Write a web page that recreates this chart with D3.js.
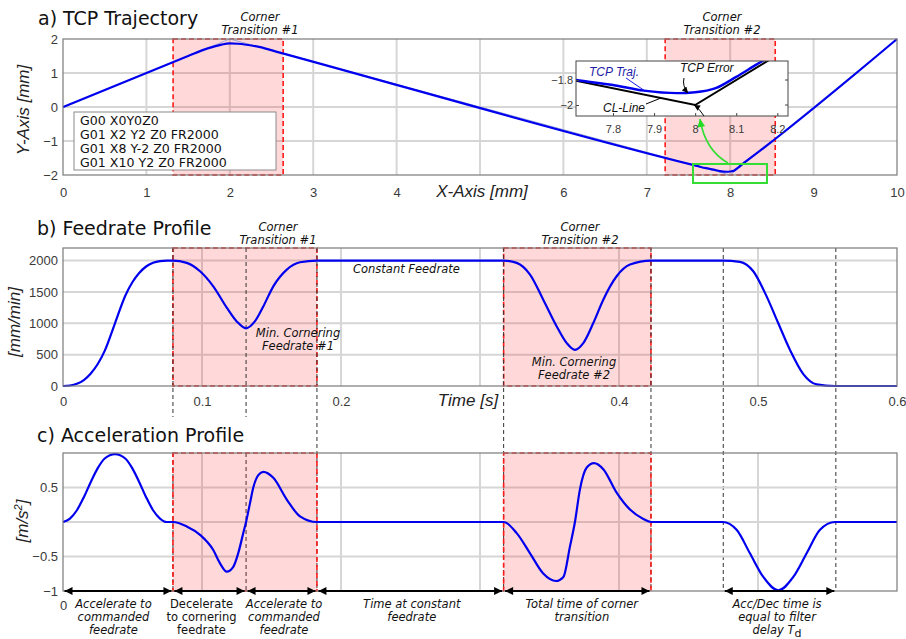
<!DOCTYPE html>
<html><head><meta charset="utf-8">
<script src="https://cdn.jsdelivr.net/npm/d3@7"></script>
<style>
body{margin:0;background:#fff;}
svg{display:block;}
</style></head><body>
<svg id="c" width="906" height="639"></svg>
<script>
// ---------------- DATA ----------------
// a) TCP trajectory (blue, smoothed) and commanded CL-line (polyline)
const trajX = [0, 1.5, 1.7, 1.8, 1.9, 2.0, 2.1, 2.2, 2.35, 2.6, 7.6, 7.71, 7.8, 7.875, 7.957, 8.0, 8.05, 8.1, 8.15, 8.2, 8.3, 10];
const trajY = [0, 1.5, 1.695, 1.77, 1.835, 1.87, 1.86, 1.83, 1.767, 1.6, -1.733, -1.80, -1.84, -1.885, -1.905, -1.898, -1.865, -1.775, -1.675, -1.58, -1.395, 2];
const clX = [0, 2, 8, 10];
const clY = [0, 2, -2, 2];
const xTicksA = [0, 1, 2, 3, 4, 6, 7, 8, 9, 10];
const yTicksA = [-2, -1, 0, 1, 2];
const xGridA = [1, 2, 3, 4, 5, 6, 7, 8, 9];
const yGridA = [-1, 0, 1];
const cornerBoxesA = [[1.32, 2.64], [7.22, 8.54]];
const cornerLabels = ["Corner Transition #1", "Corner Transition #2"];
const gcodeLines = ["G00 X0Y0Z0", "G01 X2 Y2 Z0 FR2000", "G01 X8 Y-2 Z0 FR2000", "G01 X10 Y2 Z0 FR2000"];
const insetXTicks = [7.8, 7.9, 8, 8.1, 8.2];
const insetYTicks = [-2, -1.8];
const zoomBoxX = [7.554, 8.441];
const zoomBoxY = [-2.235, -1.676];

// b) feedrate profile
const feedT = [0, 0.005, 0.010, 0.015, 0.020, 0.025, 0.030, 0.0374, 0.0448, 0.0498, 0.0548, 0.0598, 0.0648, 0.0698, 0.0746,
  0.0791, 0.089, 0.0986, 0.1081, 0.1178, 0.125, 0.1317, 0.138, 0.1441, 0.1513, 0.161, 0.1705, 0.1827,
  0.317, 0.3264, 0.336, 0.3455, 0.3552, 0.3624, 0.3683, 0.3743, 0.3815, 0.3887, 0.3983, 0.4079, 0.423,
  0.4746, 0.487, 0.4966, 0.5062, 0.5146, 0.523, 0.5326, 0.5422, 0.5554, 0.6];
const feedF = [0, 8, 35, 95, 200, 350, 560, 1000, 1440, 1650, 1800, 1905, 1965, 1992, 2000,
  2000, 1963, 1829, 1589, 1250, 1030, 920, 1030, 1269, 1589, 1856, 1973, 2000,
  2000, 1963, 1776, 1376, 949, 683, 576, 683, 1003, 1376, 1749, 1936, 2000,
  2000, 1980, 1829, 1429, 1000, 576, 190, 25, 0, 0];
const timeTicks = [0, 0.1, 0.2, 0.4, 0.5, 0.6];
const timeGrid = [0.1, 0.2, 0.3, 0.4, 0.5];
const feedTicks = [0, 500, 1000, 1500, 2000];
const feedGrid = [500, 1000, 1500, 2000];

// c) acceleration profile
const accT = [0, 0.005, 0.010, 0.015, 0.020, 0.025, 0.030, 0.0374, 0.0448, 0.0498, 0.0548, 0.0598, 0.0648, 0.0698, 0.0746,
  0.0791, 0.089, 0.0986, 0.1081, 0.113, 0.1178, 0.1225, 0.1261, 0.1297, 0.1317, 0.1345, 0.1369, 0.1405, 0.1441, 0.1513, 0.161, 0.1705, 0.1827,
  0.317, 0.3264, 0.336, 0.3455, 0.3547, 0.36, 0.3647, 0.3683, 0.3719, 0.3768, 0.382, 0.3887, 0.3983, 0.4079, 0.4175, 0.423,
  0.4746, 0.4846, 0.4942, 0.5038, 0.5146, 0.5254, 0.535, 0.5446, 0.5554, 0.6];
const accA = [0, 0.05, 0.17, 0.36, 0.58, 0.78, 0.92, 0.985, 0.92, 0.78, 0.58, 0.36, 0.17, 0.05, 0,
  0, -0.064, -0.186, -0.406, -0.6, -0.72, -0.65, -0.45, -0.16, 0, 0.27, 0.5, 0.68, 0.726, 0.64, 0.326, 0.082, 0,
  0, -0.161, -0.454, -0.747, -0.855, -0.796, -0.357, 0, 0.473, 0.79, 0.854, 0.766, 0.425, 0.18, 0.044, 0,
  0, -0.113, -0.454, -0.796, -0.99, -0.796, -0.454, -0.113, 0, 0];
const accTicks = [-1, -0.5, 0.5];
const accGrid = [-0.5, 0, 0.5];

// phases
const phaseT = [0.0791, 0.1317, 0.1827, 0.317, 0.423, 0.475, 0.556];
const cornerBoxesT = [[0.0791, 0.1827], [0.317, 0.423]];
const arrowSpans = [[0, 0.0791], [0.0791, 0.1317], [0.1317, 0.1827], [0.1827, 0.317], [0.317, 0.423], [0.475, 0.556]];
const arrowLabels = [
  ["Accelerate to", "commanded", "feedrate"],
  ["Decelerate", "to cornering", "feedrate"],
  ["Accelerate to", "commanded", "feedrate"],
  ["Time at constant", "feedrate"],
  ["Total time of corner", "transition"],
  ["Acc/Dec time is", "equal to filter", "delay T"]
];

// ---------------- DRAW ----------------
const svg = d3.select("#c");
const BLUE = "#0000ee";
const GRID = "#d6d6d6";
const FRAME = "#7a7a7a";
const TICKC = "#3a3a3a";
const SANS = "'Liberation Sans', Arial, sans-serif";
const DEJ = "'DejaVu Sans', Verdana, sans-serif";

const defs = svg.append("defs");
function marker(id, color, w, h) {
  defs.append("marker").attr("id", id).attr("viewBox", "0 0 10 10")
    .attr("refX", 10).attr("refY", 5).attr("markerUnits", "userSpaceOnUse")
    .attr("markerWidth", w).attr("markerHeight", h).attr("orient", "auto-start-reverse")
    .append("path").attr("d", "M0,0 L10,5 L0,10 z").attr("fill", color);
}
marker("ahK", "#000", 10, 8);
marker("ahS", "#000", 7, 6);
marker("ahG", "#22dd22", 9, 8);

defs.append("clipPath").attr("id", "clipInset").append("rect")
  .attr("x", 576).attr("y", 61).attr("width", 212).attr("height", 55);

const xA = d3.scaleLinear().domain([0, 10]).range([63, 897]);
const yA = d3.scaleLinear().domain([-2, 2]).range([175, 39]);
const xT = d3.scaleLinear().domain([0, 0.6]).range([63, 897]);
const yB = d3.scaleLinear().domain([0, 2200]).range([386, 248]);
const yC = d3.scaleLinear().domain([-1, 1]).range([591, 453]);
const xI = d3.scaleLinear().domain([7.71, 8.226]).range([576, 788]);
const yI = d3.scaleLinear().domain([-2.088, -1.648]).range([116, 61]);

function grid(x, y, xs, ys) {
  const g = svg.append("g");
  g.selectAll(".vg").data(xs).join("line")
    .attr("x1", d => x(d)).attr("x2", d => x(d)).attr("y1", y.range()[0]).attr("y2", y.range()[1])
    .attr("stroke", GRID).attr("stroke-width", 2);
  g.selectAll(".hg").data(ys).join("line")
    .attr("y1", d => y(d)).attr("y2", d => y(d)).attr("x1", x.range()[0]).attr("x2", x.range()[1])
    .attr("stroke", GRID).attr("stroke-width", 2);
}
function boxes(x, y, spans) {
  svg.append("g").selectAll("rect").data(spans).join("rect")
    .attr("x", d => x(d[0])).attr("width", d => x(d[1]) - x(d[0]))
    .attr("y", y.range()[1]).attr("height", y.range()[0] - y.range()[1])
    .attr("fill", "rgba(255,0,0,0.15)").attr("stroke", "#ff1a1a")
    .attr("stroke-width", 1.6).attr("stroke-dasharray", "5,3");
}
function frame(x, y) {
  svg.append("rect").attr("x", x.range()[0]).attr("y", y.range()[1])
    .attr("width", x.range()[1] - x.range()[0]).attr("height", y.range()[0] - y.range()[1])
    .attr("fill", "none").attr("stroke", FRAME).attr("stroke-width", 1.2);
}
function styleAxis(g, size) {
  g.select(".domain").remove();
  g.selectAll("text").attr("font-family", SANS).attr("font-size", size).attr("fill", TICKC);
}
function text(x, y, s, opts = {}) {
  return svg.append("text").attr("x", x).attr("y", y).text(s)
    .attr("font-family", opts.family || DEJ).attr("font-size", opts.size || 11.5)
    .attr("font-style", opts.style || "normal").attr("text-anchor", opts.anchor || "start")
    .attr("fill", opts.fill || "#111");
}
function multi(x, y, lines, lh, opts) {
  lines.forEach((l, i) => text(x, y + i * lh, l, opts));
}
function vlabel(x, y, s) {
  return svg.append("text").attr("transform", `translate(${x},${y}) rotate(-90)`)
    .attr("text-anchor", "middle").attr("font-family", SANS).attr("font-size", 17)
    .attr("font-style", "italic").attr("fill", "#222").text(s);
}

// ===== Panel a =====
text(38, 25, "a) TCP Trajectory", { size: 19, fill: "#111" });
grid(xA, yA, xGridA, yGridA);
boxes(xA, yA, cornerBoxesA);
const trajPts = trajX.map((v, i) => [v, trajY[i]]);
const clPts = clX.map((v, i) => [v, clY[i]]);
const lineA = d3.line().x(d => xA(d[0])).y(d => yA(d[1]));
svg.append("path").attr("d", lineA(clPts)).attr("fill", "none").attr("stroke", "#9aa6d8").attr("stroke-width", 1);
svg.append("path").attr("d", lineA.curve(d3.curveMonotoneX)(trajPts)).attr("fill", "none").attr("stroke", BLUE).attr("stroke-width", 2.2);
frame(xA, yA);
styleAxis(svg.append("g").attr("transform", "translate(0,175)")
  .call(d3.axisBottom(xA).tickValues(xTicksA).tickSize(0).tickPadding(12.5).tickFormat(d3.format("d"))), 13);
styleAxis(svg.append("g").attr("transform", "translate(63,0)")
  .call(d3.axisLeft(yA).tickValues(yTicksA).tickSize(0).tickPadding(5).tickFormat(d3.format("d"))), 13);
vlabel(29, 110, "Y-Axis [mm]");
text(482, 197, "X-Axis [mm]", { family: SANS, size: 17, style: "italic", anchor: "middle", fill: "#222" });
// corner labels
cornerBoxesA.forEach((b, i) => {
  const cx = i === 0 ? 260 : 722;
  const parts = cornerLabels[i].split(" ");
  multi(cx, 21, [parts[0], parts.slice(1).join(" ")], 13, { style: "italic", anchor: "middle", size: 11.5 });
});
// legend box
svg.append("rect").attr("x", 74).attr("y", 112).attr("width", 202).attr("height", 58)
  .attr("fill", "#fff").attr("stroke", "#8a8a8a").attr("stroke-width", 1);
multi(80, 124.5, gcodeLines, 14, { size: 12.6, fill: "#111" });
// green zoom box and arrow
svg.append("rect").attr("x", xA(zoomBoxX[0])).attr("y", yA(zoomBoxY[1]))
  .attr("width", xA(zoomBoxX[1]) - xA(zoomBoxX[0])).attr("height", yA(zoomBoxY[0]) - yA(zoomBoxY[1]))
  .attr("fill", "none").attr("stroke", "#33dd33").attr("stroke-width", 2);
svg.append("path").attr("d", "M728,163 Q705,150 700,119").attr("fill", "none")
  .attr("stroke", "#33dd33").attr("stroke-width", 1.6).attr("marker-end", "url(#ahG)");
// inset
svg.append("rect").attr("x", 576).attr("y", 61).attr("width", 212).attr("height", 55)
  .attr("fill", "#fff");
const lineI = d3.line().x(d => xI(d[0])).y(d => yI(d[1]));
const ig = svg.append("g").attr("clip-path", "url(#clipInset)");
ig.append("path").attr("d", lineI(clPts)).attr("fill", "none").attr("stroke", "#000").attr("stroke-width", 2);
ig.append("path").attr("d", lineI.curve(d3.curveMonotoneX)(trajPts)).attr("fill", "none").attr("stroke", BLUE).attr("stroke-width", 2.4);
svg.append("rect").attr("x", 576).attr("y", 61).attr("width", 212).attr("height", 55)
  .attr("fill", "none").attr("stroke", "#444").attr("stroke-width", 1);
const ixa = svg.append("g").attr("transform", "translate(0,116)")
  .call(d3.axisBottom(xI).tickValues(insetXTicks).tickSize(-3).tickPadding(9).tickFormat(d3.format("")));
styleAxis(ixa, 11);
ixa.selectAll("line").attr("stroke", "#444");
const iya = svg.append("g").attr("transform", "translate(576,0)")
  .call(d3.axisLeft(yI).tickValues(insetYTicks).tickSize(-3).tickPadding(3).tickFormat(d3.format("")));
styleAxis(iya, 11);
iya.selectAll("line").attr("stroke", "#444");
svg.append("g").selectAll("line").data(insetYTicks).join("line")
  .attr("x1", 788).attr("x2", 785).attr("y1", d => yI(d)).attr("y2", d => yI(d)).attr("stroke", "#444");
text(589, 76, "TCP Traj.", { family: SANS, size: 12, style: "italic", fill: "#1c1ca8" });
svg.append("path").attr("d", "M626,78 L645,91").attr("stroke", BLUE).attr("stroke-width", 0.9);
text(680, 72, "TCP Error", { family: SANS, size: 12, style: "italic", fill: "#111" });
svg.append("path").attr("d", "M684,78 Q682,86 688,93").attr("fill", "none").attr("stroke", "#000")
  .attr("stroke-width", 1).attr("marker-end", "url(#ahS)");
text(603, 112, "CL-Line", { family: SANS, size: 12, style: "italic", fill: "#111" });
svg.append("path").attr("d", "M646,104 L661,98").attr("stroke", "#000").attr("stroke-width", 1);
svg.append("path").attr("d", "M704,116 Q699,108 694,105").attr("fill", "none").attr("stroke", "#000")
  .attr("stroke-width", 1).attr("marker-end", "url(#ahS)");

// ===== Panel b =====
text(37, 235, "b) Feedrate Profile", { size: 19, fill: "#111" });
grid(xT, yB, timeGrid, feedGrid);
boxes(xT, yB, cornerBoxesT);
// dashed phase lines
phaseT.forEach(t => {
  const segs = t < 0.14 ? [[248, 417], [453, 591]] : [[248, 591]];
  segs.forEach(s => svg.append("line").attr("x1", xT(t)).attr("x2", xT(t)).attr("y1", s[0]).attr("y2", s[1])
    .attr("stroke", "#333").attr("stroke-width", 1).attr("stroke-dasharray", "4,3"));
});
const feedPts = feedT.map((v, i) => [v, feedF[i]]);
svg.append("path").attr("d", d3.line().x(d => xT(d[0])).y(d => yB(d[1])).curve(d3.curveMonotoneX)(feedPts))
  .attr("fill", "none").attr("stroke", BLUE).attr("stroke-width", 2.2);
frame(xT, yB);
styleAxis(svg.append("g").attr("transform", "translate(0,386)")
  .call(d3.axisBottom(xT).tickValues(timeTicks).tickSize(0).tickPadding(10.5).tickFormat(d => d === 0 ? "0" : d3.format(".1f")(d))), 13);
styleAxis(svg.append("g").attr("transform", "translate(63,0)")
  .call(d3.axisLeft(yB).tickValues(feedTicks).tickSize(0).tickPadding(5).tickFormat(d3.format("d"))), 13);
vlabel(20, 322, "[mm/min]");
text(468, 406, "Time [s]", { family: SANS, size: 17, style: "italic", anchor: "middle", fill: "#222" });
multi(278, 231, ["Corner", "Transition #1"], 12.5, { style: "italic", anchor: "middle" });
multi(580, 231, ["Corner", "Transition #2"], 12.5, { style: "italic", anchor: "middle" });
text(353, 273, "Constant Feedrate", { style: "italic" });
multi(298, 337, ["Min. Cornering", "Feedrate #1"], 12.5, { style: "italic", anchor: "middle" });
multi(574, 366, ["Min. Cornering", "Feedrate #2"], 12.5, { style: "italic", anchor: "middle" });

// ===== Panel c =====
text(37, 442, "c) Acceleration Profile", { size: 19, fill: "#111" });
grid(xT, yC, timeGrid, accGrid);
boxes(xT, yC, cornerBoxesT);
const accPts = accT.map((v, i) => [v, accA[i]]);
svg.append("path").attr("d", d3.line().x(d => xT(d[0])).y(d => yC(d[1])).curve(d3.curveMonotoneX)(accPts))
  .attr("fill", "none").attr("stroke", BLUE).attr("stroke-width", 2.2);
frame(xT, yC);
styleAxis(svg.append("g").attr("transform", "translate(0,591)")
  .call(d3.axisBottom(xT).tickValues([0]).tickSize(0).tickPadding(9.5).tickFormat(d3.format("d"))), 13);
styleAxis(svg.append("g").attr("transform", "translate(63,0)")
  .call(d3.axisLeft(yC).tickValues(accTicks).tickSize(0).tickPadding(5).tickFormat(d => d3.format("")(d))), 13);
const acl = svg.append("text").attr("transform", "translate(28,521) rotate(-90)")
  .attr("text-anchor", "middle").attr("font-family", SANS).attr("font-size", 17)
  .attr("font-style", "italic").attr("fill", "#222");
acl.append("tspan").text("[m/s");
acl.append("tspan").text("2").attr("font-size", 11).attr("dy", -6);
acl.append("tspan").text("]").attr("dy", 6);
// arrows
arrowSpans.forEach(s => {
  svg.append("line").attr("x1", xT(s[0]) + 1.5).attr("x2", xT(s[1]) - 1.5).attr("y1", 591).attr("y2", 591)
    .attr("stroke", "#000").attr("stroke-width", 2)
    .attr("marker-start", "url(#ahK)").attr("marker-end", "url(#ahK)");
});
const labelShift = [-4.5, -8, 2.5, 1.5, 4.5, -2.5];
arrowLabels.forEach((lines, i) => {
  const cx = (xT(arrowSpans[i][0]) + xT(arrowSpans[i][1])) / 2 + labelShift[i];
  const st = i === 1 ? "normal" : "italic";
  lines.forEach((l, j) => {
    const t = text(cx, 608 + j * 12.8, l, { style: st, anchor: "middle", fill: "#111" });
    if (i === 5 && j === 2) {
      t.append("tspan").text("d").attr("font-style", "normal").attr("font-size", 11).attr("dy", 3);
    }
  });
});
</script></body></html>
